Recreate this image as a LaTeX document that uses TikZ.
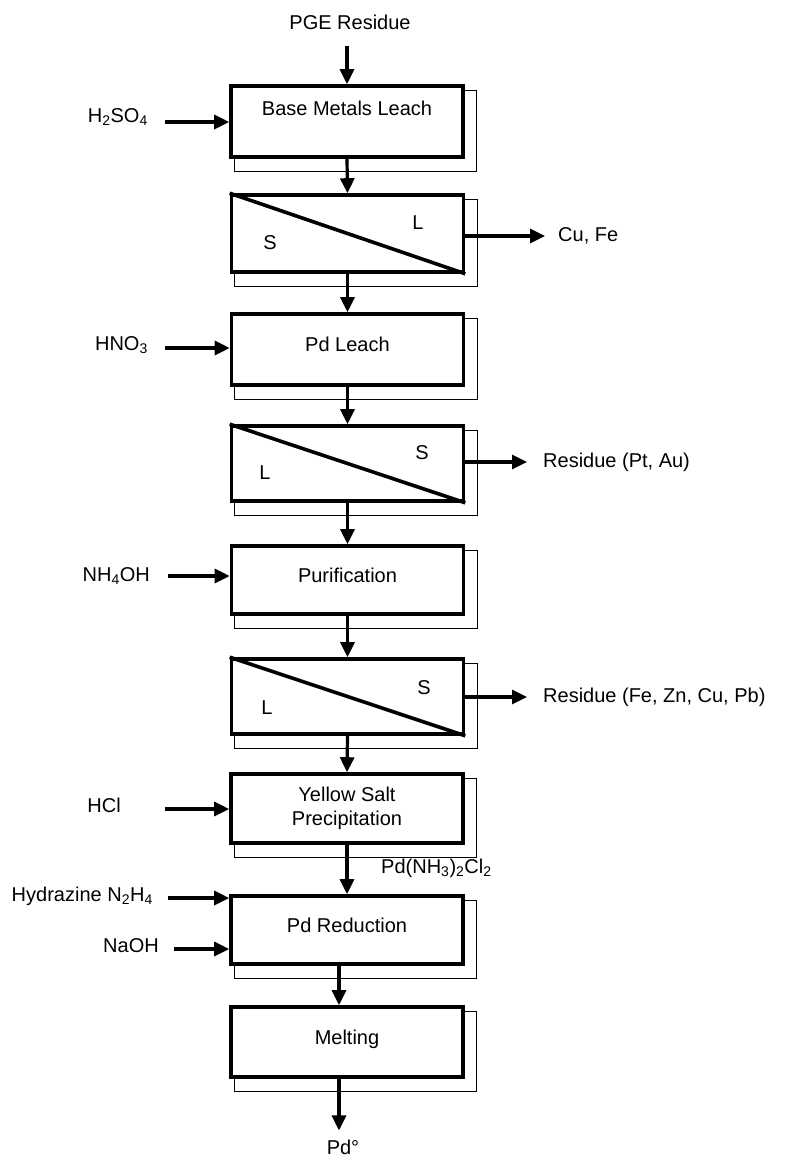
\documentclass[tikz,border=0pt]{standalone}
\usepackage{fontspec}
\setmainfont{Liberation Sans}
\usetikzlibrary{arrows.meta,positioning,calc,backgrounds}
\newcommand{\chemsub}[1]{\textsubscript{#1}}

\begin{document}
\begin{tikzpicture}[
    x=1pt,y=-1pt,
    every node/.style={font=\fontsize{20}{24}\selectfont},
    stage/.style={
      draw=black,
      fill=white,
      line width=3.6pt,
      minimum width=232pt,
      minimum height=70pt,
      align=center,
      inner sep=0pt,
      text depth=10pt
    },
    splitter/.style={
      draw=black,
      fill=white,
      line width=3.6pt,
      minimum width=232pt,
      minimum height=76pt,
      inner sep=0pt
    },
    splitline/.style={line width=3.6pt},
    backing/.style={draw=black, line width=1.2pt},
    stream/.style={inner sep=0pt},
    flow/.style={
      -{Triangle[length=15pt,width=14pt]},
      line width=3.2pt
    }
  ]
    \useasboundingbox (0,0) rectangle (787,1157);

    \node[stage, minimum height=71pt, text depth=26pt] (leach) at (347,121.5) {Base Metals Leach};
    \node[splitter, minimum height=77pt] (sepA) at (347.5,233.5) {};
    \node[stage, minimum height=71pt] (pdleach) at (347.5,349.5) {Pd Leach};
    \node[splitter, minimum height=75pt] (sepB) at (347.5,463.5) {};
    \node[stage, minimum height=68pt] (purif) at (347.5,580) {Purification};
    \node[splitter, minimum height=75pt] (sepC) at (347.5,696.5) {};
    \node[stage, minimum height=69pt, text depth={}] (yellow) at (347,808.5) {Yellow Salt\\Precipitation};
    \node[stage, minimum height=68pt] (reduct) at (347,930) {Pd Reduction};
    \node[stage] (melt) at (347,1042) {Melting};

    \begin{scope}[on background layer]
      \foreach \n in {leach,sepA,pdleach,sepB,purif,sepC,yellow,reduct,melt}
        \draw[backing] ($(\n.north west)+(5,6)$) rectangle ($(\n.south east)+(12,13)$);
    \end{scope}

    \foreach \n in {sepA,sepB,sepC}
      \draw[splitline] (\n.north west) -- (\n.south east);

    \node[stream] (liqA) at (418,223) {L};
    \node[stream] (solA) at (270,243) {S};
    \node[stream] (solB) at (422,453) {S};
    \node[stream] (liqB) at (265,473) {L};
    \node[stream] (solC) at (424,688) {S};
    \node[stream] (liqC) at (267,708) {L};

    \node[stream] (pge) at (350,22) {PGE Residue};
    \coordinate (feed) at (347,46);

    \node[stream, anchor=east] (h2so4) at (148,117) {H\chemsub{2}SO\chemsub{4}};
    \node[stream, anchor=east] (hno3) at (148,345) {HNO\chemsub{3}};
    \node[stream, anchor=east] (nh4oh) at (150,576) {NH\chemsub{4}OH};
    \node[stream, anchor=east] (hcl) at (121,805) {HCl};
    \node[stream, anchor=east] (hydrazine) at (153,896) {Hydrazine N\chemsub{2}H\chemsub{4}};
    \node[stream, anchor=east] (naoh) at (159,946) {NaOH};
    \coordinate (inA) at (165,122);
    \coordinate (inB) at (165,348);
    \coordinate (inC) at (168,576);
    \coordinate (inD) at (165,809);
    \coordinate (inE) at (168,898);
    \coordinate (inF) at (174,949);

    \node[stream, anchor=west, inner xsep=13pt] (cufe) at (545,236) {Cu, Fe};
    \node[stream, anchor=west, inner xsep=16pt] (respt) at (527,462) {Residue (Pt, Au)};
    \node[stream, anchor=west, inner xsep=16pt] (resfe) at (527,697) {Residue (Fe, Zn, Cu, Pb)};
    \node[stream, anchor=west] (salt) at (381,868) {Pd(NH\chemsub{3})\chemsub{2}Cl\chemsub{2}};
    \node[stream, inner ysep=9pt] (pd) at (343,1147) {Pd°};

    \draw[flow] (feed) -- (leach.north);
    \draw[flow] (leach.south) -- (sepA.north);
    \draw[flow] (sepA.south) -- (pdleach.north);
    \draw[flow] (pdleach.south) -- (sepB.north);
    \draw[flow] (sepB.south) -- (purif.north);
    \draw[flow] (purif.south) -- (sepC.north);
    \draw[flow] (sepC.south) -- (yellow.north);
    \draw[flow] (yellow.south) -- (reduct.north);
    \draw[flow] ([xshift=-8pt]reduct.south) -- ([xshift=-8pt]melt.north);
    \draw[flow] ([xshift=-8pt]melt.south) -- ([xshift=-4pt]pd.north);

    \draw[flow] (inA) -- (inA -| leach.west);
    \draw[flow] (inB) -- (inB -| pdleach.west);
    \draw[flow] (inC) -- (inC -| purif.west);
    \draw[flow] (inD) -- (inD -| yellow.west);
    \draw[flow] (inE) -- (inE -| reduct.west);
    \draw[flow] (inF) -- (inF -| reduct.west);

    \draw[flow] (sepA.east |- cufe.west) -- (cufe.west);
    \draw[flow] (sepB.east |- respt.west) -- (respt.west);
    \draw[flow] (sepC.east |- resfe.west) -- (resfe.west);
  \end{tikzpicture}
\end{document}
